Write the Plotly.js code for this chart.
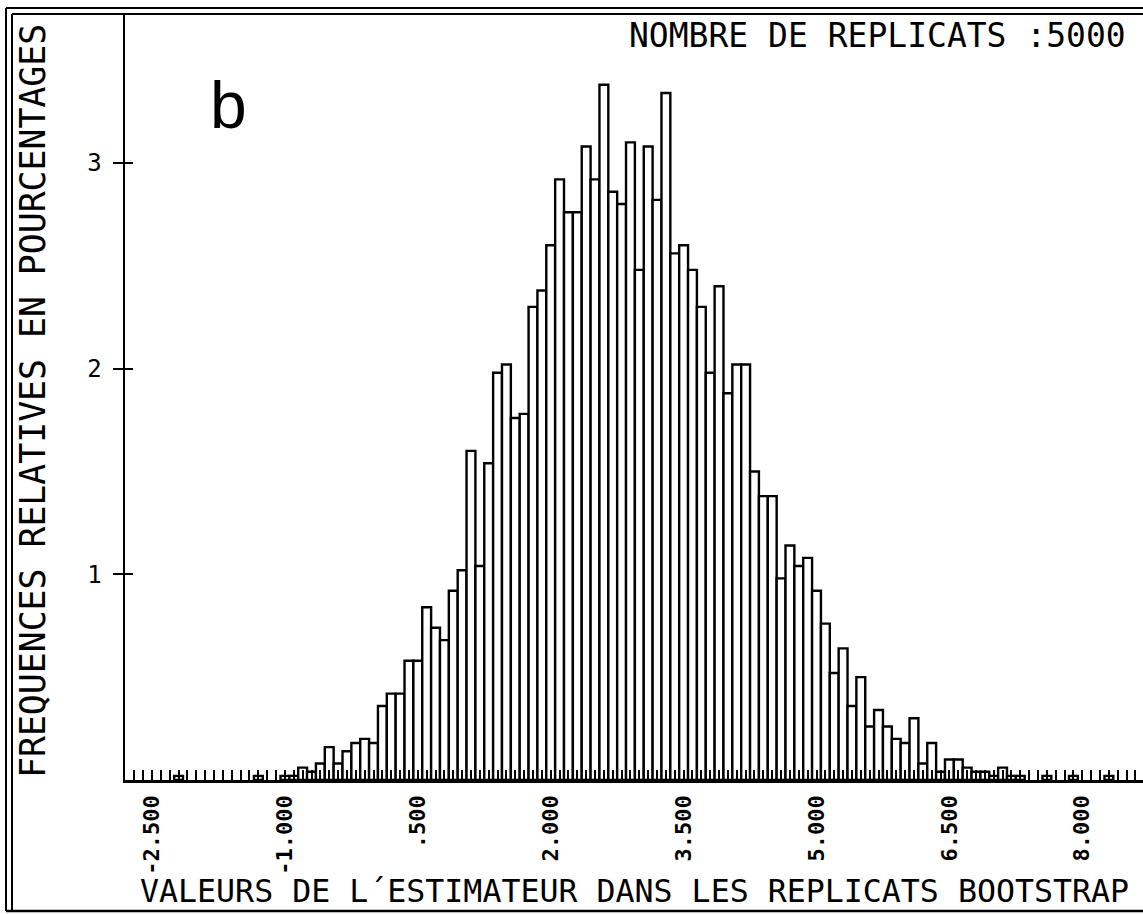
<!DOCTYPE html>
<html>
<head>
<meta charset="utf-8">
<script src="https://cdn.plot.ly/plotly-3.0.1.min.js"></script>
<style>
  html, body { margin: 0; padding: 0; background: #ffffff; }
  #chart { width: 1143px; height: 914px; }
</style>
</head>
<body>
<div id="chart"></div>
<script>
// Bootstrap histogram: relative frequencies (%) of the estimator over 5000 replicates, bins of width 0.1
const binCenters = [
  -2.2, -1.3, -1.0, -0.9,
  -0.8, -0.7, -0.6, -0.5, -0.4, -0.3, -0.2, -0.1, 0.0,
  0.1, 0.2, 0.3, 0.4, 0.5, 0.6, 0.7, 0.8, 0.9,
  1.0, 1.1, 1.2, 1.3, 1.4, 1.5, 1.6, 1.7, 1.8, 1.9,
  2.0, 2.1, 2.2, 2.3, 2.4, 2.5, 2.6, 2.7, 2.8, 2.9,
  3.0, 3.1, 3.2, 3.3, 3.4, 3.5, 3.6, 3.7, 3.8, 3.9,
  4.0, 4.1, 4.2, 4.3, 4.4, 4.5, 4.6, 4.7, 4.8, 4.9,
  5.0, 5.1, 5.2, 5.3, 5.4, 5.5, 5.6, 5.7, 5.8, 5.9,
  6.0, 6.1, 6.2, 6.3, 6.4, 6.5, 6.6, 6.7, 6.8, 6.9,
  7.0, 7.1, 7.2, 7.3, 7.6, 7.9, 8.3
];
const frequencies = [
  0.02, 0.02, 0.02, 0.02,
  0.06, 0.04, 0.08, 0.16, 0.08, 0.14, 0.18, 0.20, 0.18,
  0.36, 0.42, 0.42, 0.58, 0.58, 0.84, 0.74, 0.68, 0.92,
  1.02, 1.60, 1.04, 1.54, 1.98, 2.02, 1.76, 1.78, 2.30, 2.38,
  2.60, 2.92, 2.76, 2.76, 3.08, 2.92, 3.38, 2.86, 2.80, 3.10,
  2.48, 3.08, 2.82, 3.34, 2.56, 2.60, 2.48, 2.30, 1.98, 2.40,
  1.88, 2.02, 2.02, 1.50, 1.38, 1.38, 0.98, 1.14, 1.04, 1.08,
  0.92, 0.76, 0.52, 0.64, 0.36, 0.50, 0.26, 0.34, 0.26, 0.20,
  0.18, 0.30, 0.08, 0.18, 0.04, 0.10, 0.10, 0.06, 0.04, 0.04,
  0.02, 0.06, 0.02, 0.02, 0.02, 0.02, 0.02
];
const xTickValues = [-2.5, -1.0, 0.5, 2.0, 3.5, 5.0, 6.5, 8.0];
const xTickLabels = ["-2.500", "-1.000", ".500", "2.000", "3.500", "5.000", "6.500", "8.000"];
const yTickValues = [1, 2, 3];
const yTickLabels = ["1", "2", "3"];

const panelLetter = "b";
const replicateNote = "NOMBRE DE REPLICATS :5000";
const xTitle = "VALEURS DE L\u00B4ESTIMATEUR DANS LES REPLICATS BOOTSTRAP";
const yTitle = "FREQUENCES RELATIVES EN POURCENTAGES";

// Page geometry (pixels)
const W = 1143, H = 914;
const PLOT_L = 125, PLOT_R = 1143, PLOT_T = 15, PLOT_B = 780;
const plotW = PLOT_R - PLOT_L, plotH = PLOT_B - PLOT_T;
const px = x => (x - PLOT_L) / plotW;      // pixel -> paper x
const py = y => (PLOT_B - y) / plotH;      // pixel -> paper y

const MONO = "DejaVu Sans Mono, Liberation Mono, monospace";
const INK = "#000000";

const bars = {
  type: "bar",
  x: binCenters,
  y: frequencies,
  width: 0.1,
  marker: { color: "#ffffff", line: { color: INK, width: 2.4 } },
  hoverinfo: "skip"
};
// Empty trace so the overlaid inner-tick axis is drawn
const innerTicks = { type: "scatter", x: [], y: [], yaxis: "y2", hoverinfo: "skip", showlegend: false };

const frameLine = (x0, y0, x1, y1, w) => ({
  type: "line", xref: "paper", yref: "paper",
  x0: px(x0), y0: py(y0), x1: px(x1), y1: py(y1),
  line: { color: INK, width: w }
});

const layout = {
  width: W, height: H,
  margin: { l: PLOT_L, r: W - PLOT_R, t: PLOT_T, b: H - PLOT_B, pad: 0 },
  paper_bgcolor: "#ffffff",
  plot_bgcolor: "#ffffff",
  showlegend: false,
  bargap: 0,
  font: { family: MONO, color: INK },
  xaxis: {
    range: [-2.805, 8.685],
    showgrid: false, zeroline: false,
    showline: true, linecolor: INK, linewidth: 2.5,
    tickmode: "array", tickvals: xTickValues, ticktext: xTickLabels,
    ticks: "inside", ticklen: 10, tickwidth: 2, tickcolor: INK,
    tickangle: -90,
    tickfont: { family: MONO, size: 22, color: INK, weight: "bold" },
    ticklabelstandoff: 4,
    minor: { tickmode: "linear", tick0: 0, dtick: 0.1, ticks: "inside", ticklen: 10, tickwidth: 2, tickcolor: INK, showgrid: false },
    fixedrange: true
  },
  yaxis: {
    range: [0, 3.719],
    showgrid: false, zeroline: false,
    showline: true, linecolor: INK, linewidth: 2.5,
    tickmode: "array", tickvals: yTickValues, ticktext: yTickLabels,
    ticks: "outside", ticklen: 10, tickwidth: 1.8, tickcolor: INK,
    tickfont: { family: MONO, size: 24, color: INK },
    ticklabelstandoff: 6,
    fixedrange: true
  },
  yaxis2: {
    overlaying: "y", side: "left",
    range: [0, 3.719],
    showgrid: false, zeroline: false, showline: false,
    tickmode: "array", tickvals: yTickValues,
    ticks: "inside", ticklen: 8, tickwidth: 1.8, tickcolor: INK,
    showticklabels: false,
    fixedrange: true
  },
  shapes: [
    frameLine(6, 8, 6, 911, 2),        // outer left
    frameLine(12, 14, 12, 911, 2),     // inner left
    frameLine(6, 8, W, 8, 2),          // outer top
    frameLine(12, 14, W, 14, 2),       // inner top
    frameLine(6, 911, W, 911, 2.5)     // bottom
  ],
  annotations: [
    {
      text: panelLetter, xref: "paper", yref: "paper",
      x: px(228), y: py(105), xanchor: "center", yanchor: "middle",
      showarrow: false,
      font: { family: "Liberation Sans, Arial, sans-serif", size: 66, color: INK }
    },
    {
      text: replicateNote, xref: "paper", yref: "paper",
      x: px(1128), y: py(35.5), xanchor: "right", yanchor: "middle",
      showarrow: false,
      font: { family: MONO, size: 33, color: INK }
    },
    {
      text: xTitle, xref: "paper", yref: "paper",
      x: px(634), y: py(891), xanchor: "center", yanchor: "middle",
      showarrow: false,
      font: { family: MONO, size: 31.6, color: INK }
    },
    {
      text: yTitle, xref: "paper", yref: "paper",
      x: px(33), y: py(401), xanchor: "center", yanchor: "middle",
      textangle: -90, showarrow: false,
      font: { family: MONO, size: 34.8, color: INK }
    }
  ]
};

Plotly.newPlot("chart", [bars, innerTicks], layout, { displayModeBar: false, staticPlot: true });
</script>
</body>
</html>
